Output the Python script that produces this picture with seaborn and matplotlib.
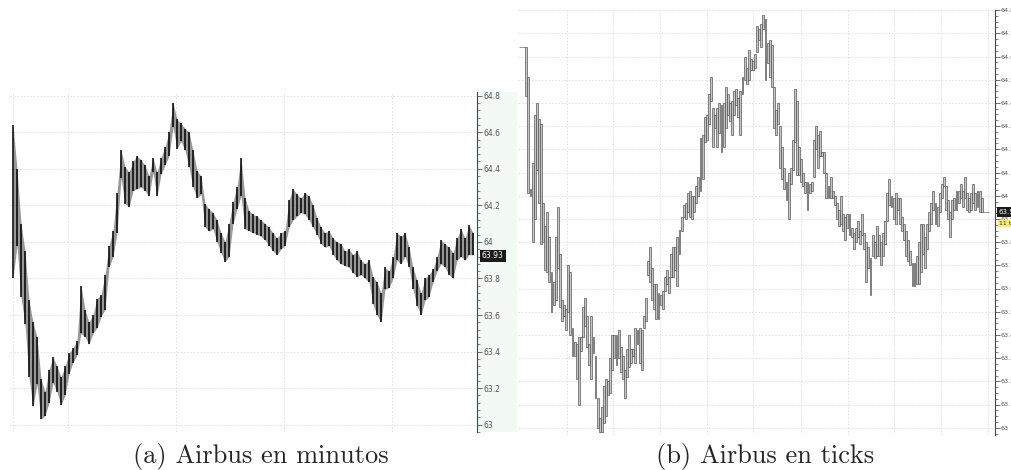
import matplotlib
matplotlib.use("Agg")
import matplotlib.pyplot as plt
import seaborn as sns
from matplotlib.ticker import MultipleLocator, FormatStrFormatter

sns.set_style("white")

# ===== DATOS: Airbus en minutos (máximo / mínimo de cada barra) =====
minute_high = [64.64, 64.40, 64.10, 63.95, 63.68, 63.56, 63.48, 63.25, 63.18, 63.30,
               63.37, 63.32, 63.26, 63.32, 63.39, 63.42, 63.46, 63.76, 63.63, 63.56,
               63.60, 63.69, 63.71, 63.82, 63.98, 64.06, 64.27, 64.50, 64.41, 64.38,
               64.44, 64.47, 64.45, 64.42, 64.36, 64.46, 64.38, 64.46, 64.52, 64.60,
               64.76, 64.67, 64.65, 64.62, 64.60, 64.50, 64.39, 64.36, 64.21, 64.18,
               64.16, 64.12, 64.05, 64.00, 64.10, 64.22, 64.30, 64.46, 64.24, 64.17,
               64.15, 64.14, 64.12, 64.10, 64.08, 64.05, 64.02, 64.05, 64.06, 64.23,
               64.29, 64.26, 64.24, 64.27, 64.25, 64.20, 64.13, 64.08, 64.05, 64.06,
               64.02, 64.00, 63.99, 63.95, 63.96, 63.93, 63.95, 63.90, 63.88, 63.90,
               63.81, 63.78, 63.72, 63.86, 63.84, 63.92, 64.05, 64.03, 64.05, 63.97,
               63.86, 63.79, 63.72, 63.80, 63.82, 63.85, 63.92, 64.01, 63.99, 63.97,
               63.94, 64.02, 64.07, 64.02, 64.09, 64.05]
minute_low = [63.80, 63.98, 63.70, 63.55, 63.26, 63.10, 63.22, 63.03, 63.05, 63.12,
              63.23, 63.18, 63.11, 63.16, 63.28, 63.34, 63.38, 63.50, 63.48, 63.44,
              63.50, 63.53, 63.59, 63.63, 63.86, 63.92, 64.05, 64.35, 64.21, 64.19,
              64.28, 64.29, 64.30, 64.28, 64.25, 64.38, 64.25, 64.37, 64.42, 64.47,
              64.63, 64.51, 64.55, 64.50, 64.41, 64.30, 64.24, 64.26, 64.08, 64.06,
              64.07, 64.00, 63.94, 63.89, 63.92, 64.10, 64.18, 64.25, 64.07, 64.06,
              64.05, 64.04, 64.03, 64.01, 63.98, 63.95, 63.93, 63.96, 63.98, 64.08,
              64.12, 64.14, 64.16, 64.15, 64.12, 64.08, 64.04, 63.99, 63.97, 63.98,
              63.93, 63.90, 63.88, 63.87, 63.86, 63.83, 63.81, 63.82, 63.80, 63.78,
              63.66, 63.60, 63.56, 63.74, 63.75, 63.80, 63.90, 63.88, 63.92, 63.86,
              63.74, 63.65, 63.60, 63.68, 63.70, 63.78, 63.84, 63.88, 63.86, 63.82,
              63.80, 63.90, 63.92, 63.90, 63.93, 63.93]

# ===== DATOS: Airbus en ticks (máximo / mínimo de cada barra) =====
tick_high = [64.64, 64.64, 64.64, 64.64, 64.51, 64.03, 64.14, 64.35, 64.40, 64.33,
             64.31, 63.97, 63.87, 63.93, 63.82, 63.67, 63.63, 63.82, 63.95, 63.75,
             63.55, 63.53, 63.51, 63.70, 63.67, 63.43, 63.37, 63.36, 63.39, 63.39,
             63.52, 63.56, 63.48, 63.36, 63.48, 63.39, 63.31, 63.13, 63.04, 63.09,
             63.18, 63.21, 63.20, 63.30, 63.40, 63.40, 63.40, 63.42, 63.35, 63.31,
             63.25, 63.34, 63.40, 63.34, 63.34, 63.43, 63.42, 63.43, 63.42, 63.48,
             63.56, 63.72, 63.78, 63.69, 63.62, 63.62, 63.58, 63.57, 63.59, 63.65,
             63.68, 63.65, 63.75, 63.78, 63.78, 63.82, 63.85, 63.91, 63.96, 63.97,
             64.01, 64.02, 64.00, 64.00, 64.04, 64.08, 64.25, 64.26, 64.34, 64.35,
             64.44, 64.51, 64.38, 64.35, 64.38, 64.40, 64.39, 64.40, 64.47, 64.44,
             64.40, 64.41, 64.45, 64.46, 64.42, 64.45, 64.51, 64.60, 64.55, 64.63,
             64.59, 64.58, 64.61, 64.73, 64.72, 64.74, 64.78, 64.76, 64.66, 64.67,
             64.65, 64.47, 64.37, 64.40, 64.30, 64.21, 64.12, 64.06, 64.10, 64.12,
             64.24, 64.46, 64.41, 64.21, 64.16, 64.10, 64.06, 64.06, 64.05, 64.06,
             64.24, 64.30, 64.26, 64.28, 64.19, 64.19, 64.10, 64.04, 64.08, 64.02,
             64.00, 63.97, 63.94, 64.00, 63.92, 63.91, 63.92, 63.92, 63.86, 63.84,
             63.86, 63.89, 63.85, 63.92, 63.84, 63.80, 63.78, 63.73, 63.83, 63.80,
             63.87, 63.83, 63.80, 63.84, 63.89, 64.01, 64.07, 64.00, 63.99, 64.01,
             63.99, 63.99, 63.91, 63.88, 63.85, 63.81, 63.76, 63.71, 63.71, 63.74,
             63.80, 63.88, 63.88, 63.82, 63.88, 63.93, 63.97, 64.02, 63.97, 63.95,
             64.01, 64.05, 64.08, 64.04, 63.98, 63.93, 63.98, 63.99, 64.02, 64.02,
             64.05, 64.02, 64.08, 64.01, 63.99, 64.01, 64.05, 64.01, 64.02, 64.02,
             63.99, 63.93, 63.93, 63.93]
tick_low = [64.64, 64.64, 64.64, 64.43, 64.01, 64.00, 63.80, 63.90, 64.11, 63.97,
            63.79, 63.80, 63.68, 63.67, 63.63, 63.50, 63.53, 63.55, 63.69, 63.52,
            63.46, 63.48, 63.42, 63.50, 63.40, 63.31, 63.31, 63.21, 63.10, 63.33,
            63.39, 63.44, 63.35, 63.27, 63.21, 63.32, 63.13, 63.00, 62.98, 62.98,
            63.02, 63.05, 63.14, 63.15, 63.25, 63.30, 63.27, 63.30, 63.24, 63.21,
            63.13, 63.22, 63.26, 63.28, 63.31, 63.28, 63.36, 63.28, 63.25, 63.43,
            63.46, 63.66, 63.63, 63.55, 63.51, 63.47, 63.47, 63.53, 63.51, 63.59,
            63.62, 63.58, 63.65, 63.65, 63.68, 63.61, 63.75, 63.85, 63.91, 63.90,
            63.93, 63.91, 63.90, 63.93, 63.97, 64.00, 64.02, 64.07, 64.23, 64.24,
            64.31, 64.41, 64.21, 64.29, 64.21, 64.27, 64.19, 64.21, 64.29, 64.35,
            64.32, 64.26, 64.35, 64.39, 64.34, 64.26, 64.44, 64.50, 64.48, 64.50,
            64.54, 64.54, 64.55, 64.62, 64.67, 64.64, 64.72, 64.50, 64.57, 64.51,
            64.47, 64.29, 64.26, 64.31, 64.12, 64.07, 64.03, 63.98, 63.90, 64.05,
            64.11, 64.23, 64.09, 64.09, 64.06, 64.04, 64.01, 63.94, 64.01, 64.02,
            64.08, 64.20, 64.12, 64.17, 64.17, 64.10, 63.99, 63.99, 63.99, 63.99,
            63.96, 63.90, 63.87, 63.88, 63.85, 63.81, 63.86, 63.83, 63.82, 63.77,
            63.80, 63.82, 63.79, 63.83, 63.77, 63.63, 63.69, 63.57, 63.74, 63.73,
            63.74, 63.74, 63.70, 63.74, 63.79, 63.89, 63.96, 63.95, 63.90, 63.88,
            63.94, 63.88, 63.85, 63.81, 63.74, 63.72, 63.70, 63.61, 63.61, 63.62,
            63.62, 63.67, 63.75, 63.69, 63.77, 63.85, 63.88, 63.94, 63.88, 63.87,
            63.93, 63.99, 64.04, 63.94, 63.90, 63.82, 63.90, 63.94, 63.94, 63.97,
            63.99, 63.95, 63.99, 63.94, 63.93, 63.94, 63.97, 63.94, 63.95, 63.93,
            63.93, 63.93, 63.93, 63.93]

last_price = "63.93"
tick_counter = "11 ticks"
captions = ["(a) Airbus en minutos", "(b) Airbus en ticks"]

W, H = 1012, 470
fig = plt.figure(figsize=(W / 100, H / 100), dpi=100)


def px_axes(x0, y0, x1, y1):
    return fig.add_axes([x0 / W, 1 - y1 / H, (x1 - x0) / W, (y1 - y0) / H])


def style_price_axis(ax, major, minor, labelsize, pad):
    for side in ["top", "left", "bottom"]:
        ax.spines[side].set_visible(False)
    ax.spines["right"].set_color("#444444")
    ax.spines["right"].set_linewidth(0.8)
    ax.yaxis.tick_right()
    ax.yaxis.set_major_locator(MultipleLocator(major))
    ax.yaxis.set_minor_locator(MultipleLocator(minor))
    ax.yaxis.set_major_formatter(FormatStrFormatter("%g"))
    ax.tick_params(axis="y", which="major", length=3.5, width=0.6, color="#555555",
                   labelsize=labelsize, labelcolor="#555555", pad=pad)
    ax.tick_params(axis="y", which="minor", length=2, width=0.5, color="#555555")
    ax.set_xticks([])
    ax.grid(axis="y", which="major", color="#dddddd", linestyle=(0, (2, 2)), linewidth=0.6)
    ax.set_axisbelow(True)


# ----- panel izquierdo: minutos -----
strip = px_axes(477, 92, 517, 432)
strip.set_facecolor("#f3f9f4")
strip.set_xticks([])
strip.set_yticks([])
for s in strip.spines.values():
    s.set_visible(False)
strip.set_zorder(0)

ax1 = px_axes(10, 92, 477, 432)
ax1.set_zorder(1)
ax1.patch.set_alpha(0)
n1 = len(minute_high)
ax1.set_xlim(-0.75, n1 + 0.0)
ax1.set_ylim(62.96, 64.82)
style_price_axis(ax1, 0.2, 0.04, 5.5, 1.5)
for gx in [13, 68, 176, 284, 392]:
    ax1.axvline((gx - 13) / 4, color="#dddddd", linestyle=(0, (2, 2)), linewidth=0.6, zorder=0)
ax1.fill_between(range(n1), minute_low, minute_high, color="#333333",
                 linewidth=0, alpha=0.5)
ax1.vlines(range(n1), minute_low, minute_high, color="black", linewidth=1.1)
fig.text(482 / W, 1 - 256 / H, last_price, fontsize=5.5, color="white", va="center",
         bbox=dict(boxstyle="square,pad=0.25", facecolor="#1a1a1a", edgecolor="none"))

# ----- panel derecho: ticks -----
ax2 = px_axes(518, 10, 995, 435)
n2 = len(tick_high)
step = (988 - 520) / (n2 - 1)
ax2.set_xlim(-2 / step, (n2 - 1) + 7 / step)
ax2.set_ylim(64.7 - (435 - 33.3) / 232, 64.7 + (33.3 - 10) / 232)
style_price_axis(ax2, 0.1, 0.025, 4.6, 0.3)
for gx in [567, 613, 660, 707, 753, 801, 848, 894, 941, 988]:
    ax2.axvline((gx - 520) / step, color="#dddddd", linestyle=(0, (2, 2)), linewidth=0.6, zorder=0)
heights = [h - l for h, l in zip(tick_high, tick_low)]
ax2.bar(range(n2), heights, bottom=tick_low, width=0.9, color="#c4c4c4",
        edgecolor="#4a4a4a", linewidth=0.45)
fig.text(999 / W, 1 - 212 / H, last_price, fontsize=5, color="white", va="center",
         bbox=dict(boxstyle="square,pad=0.25", facecolor="#1a1a1a", edgecolor="none"))
fig.text(999 / W, 1 - 223.5 / H, tick_counter, fontsize=4.5, color="#333333", va="center",
         bbox=dict(boxstyle="square,pad=0.2", facecolor="#fbeb7a", edgecolor="none"))

# ----- leyendas de subfigura -----
fig.text(261 / W, 1 - 457 / H, captions[0], family="cmr10", fontsize=19,
         ha="center", va="center")
fig.text(765 / W, 1 - 457 / H, captions[1], family="cmr10", fontsize=19,
         ha="center", va="center")

fig.savefig("out.png", dpi=100)
